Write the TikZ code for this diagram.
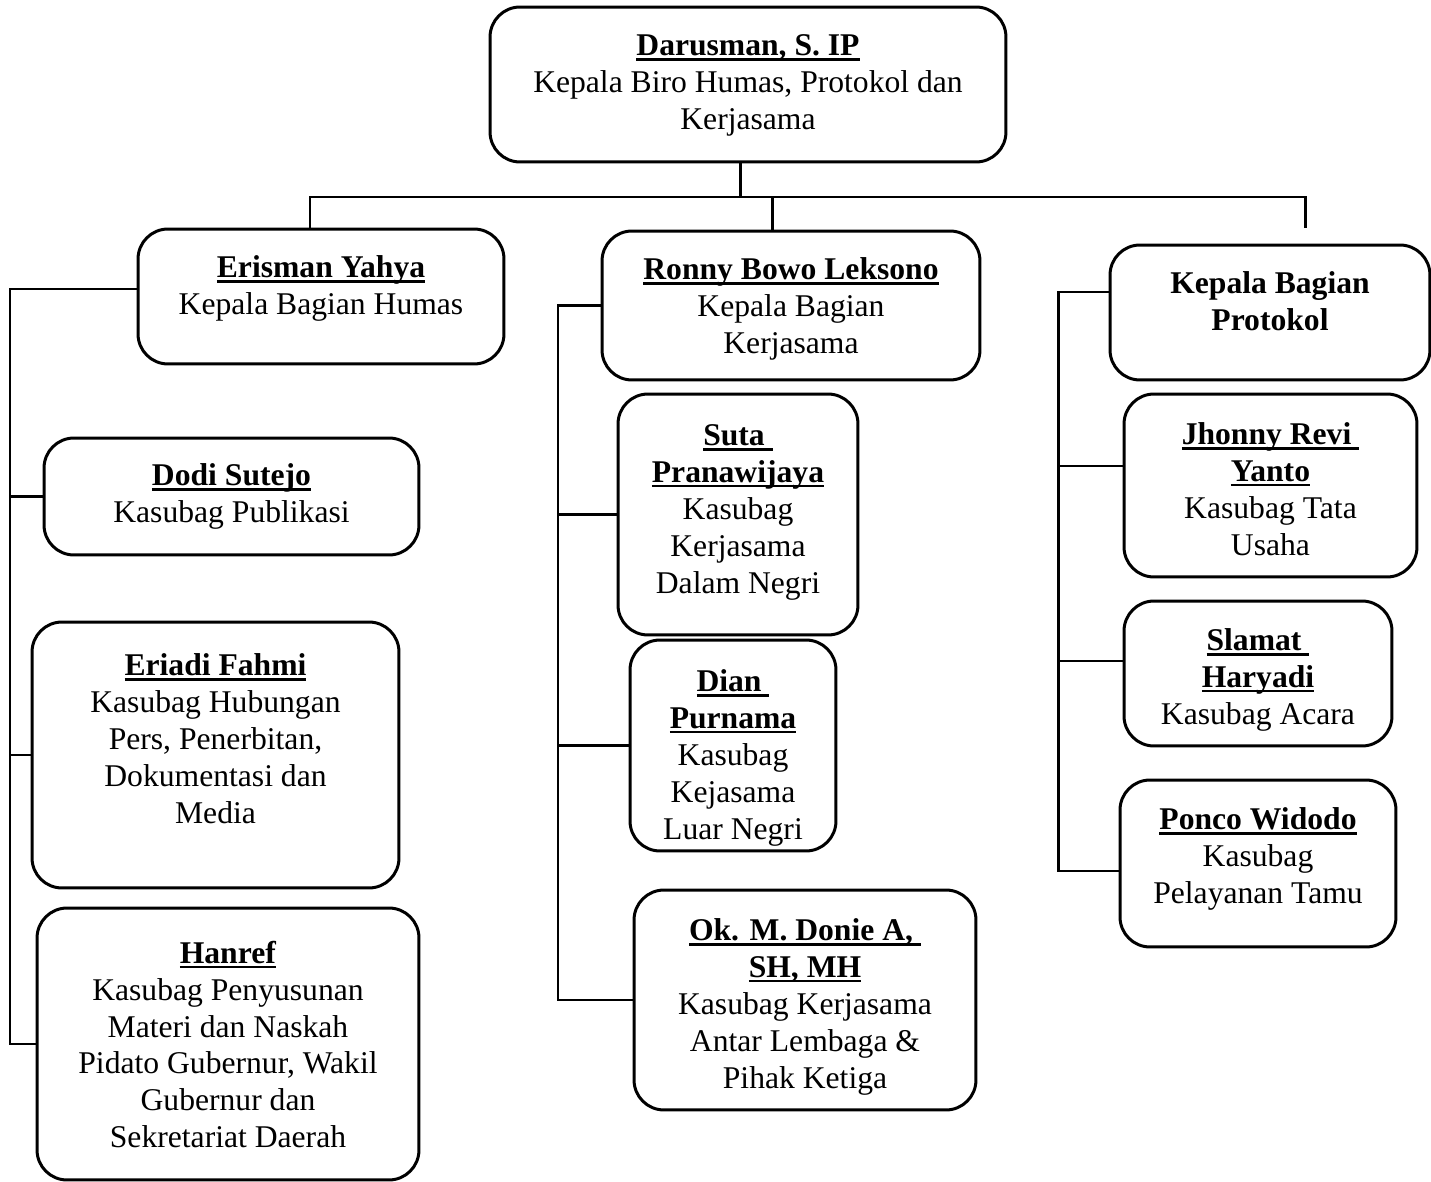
\documentclass[tikz,border=0pt]{standalone}
\usepackage{fontspec}
\setmainfont{Liberation Serif}
\usetikzlibrary{positioning}
\newcommand{\nama}[1]{\setbox0\hbox{\textbf{#1}}\leavevmode\rlap{\rule[-2.6pt]{\wd0}{1.3pt}}\box0}

\begin{document}
\begin{tikzpicture}[x=0.02cm,y=-0.02cm,line width=1.7pt,
					box/.style={draw,rounded corners=0.6cm,inner sep=0pt},
					txt/.style={align=center,inner sep=0pt,font=\fontsize{18}{21}\selectfont}
					]
\useasboundingbox (0,0) rectangle (1431,1182);
% kepala biro
\node[box,minimum width=10.32cm,minimum height=3.1cm](kepala) at (748,84.5){};
\node[txt,below=0.56cm of kepala.north](tkepala){\nama{Darusman, S. IP}\\Kepala Biro Humas, Protokol dan\\Kerjasama};
% kepala bagian
\node[box,minimum width=7.32cm,minimum height=2.7cm](humas) at (321,296.5){};
\node[txt,below=0.54cm of humas.north](thumas){\nama{Erisman Yahya}\\Kepala Bagian Humas};
\node[box,minimum width=7.56cm,minimum height=2.98cm](kerja) at (791,305.5){};
\node[txt,below=0.54cm of kerja.north](tkerja){\nama{Ronny Bowo Leksono}\\Kepala Bagian\\Kerjasama};
\node[box,minimum width=6.4cm,minimum height=2.7cm](proto) at (1270,312.5){};
\node[txt,below=0.54cm of proto.north](tproto){\textbf{Kepala Bagian}\\\textbf{Protokol}};
% kasubag humas
\node[box,minimum width=7.5cm,minimum height=2.34cm](dodi) at (231.5,496.5){};
\node[txt,below=0.52cm of dodi.north](tdodi){\nama{Dodi Sutejo}\\Kasubag Publikasi};
\node[box,minimum width=7.34cm,minimum height=5.32cm](eriadi) at (215.5,755){};
\node[txt,below=0.64cm of eriadi.north](teriadi){\nama{Eriadi Fahmi}\\Kasubag Hubungan\\Pers, Penerbitan,\\Dokumentasi dan\\Media};
\node[box,minimum width=7.64cm,minimum height=5.44cm](hanref) at (228,1044){};
\node[txt,below=0.66cm of hanref.north](thanref){\nama{Hanref}\\Kasubag Penyusunan\\Materi dan Naskah\\Pidato Gubernur, Wakil\\Gubernur dan\\Sekretariat Daerah};
% kasubag kerjasama
\node[box,minimum width=4.8cm,minimum height=4.82cm](suta) at (738,514.5){};
\node[txt,below=0.62cm of suta.north](tsuta){\nama{Suta\ }\\\nama{Pranawijaya}\\Kasubag\\Kerjasama\\Dalam Negri};
\node[box,minimum width=4.12cm,minimum height=4.22cm](dian) at (733,745.5){};
\node[txt,below=0.6cm of dian.north](tdian){\nama{Dian\ }\\\nama{Purnama}\\Kasubag\\Kejasama\\Luar Negri};
\node[box,minimum width=6.84cm,minimum height=4.4cm](donie) at (805,1000){};
\node[txt,below=0.58cm of donie.north](tdonie){\nama{Ok. M. Donie A,\ }\\\nama{SH, MH}\\Kasubag Kerjasama\\Antar Lembaga \&\\Pihak Ketiga};
% kasubag protokol
\node[box,minimum width=5.86cm,minimum height=3.66cm](jhonny) at (1270.5,485.5){};
\node[txt,below=0.58cm of jhonny.north](tjhonny){\nama{Jhonny Revi\ }\\\nama{Yanto}\\Kasubag Tata\\Usaha};
\node[box,minimum width=5.36cm,minimum height=2.9cm](slamat) at (1258,673.5){};
\node[txt,below=0.56cm of slamat.north](tslamat){\nama{Slamat\ }\\\nama{Haryadi}\\Kasubag Acara};
\node[box,minimum width=5.52cm,minimum height=3.34cm](ponco) at (1258,863.5){};
\node[txt,below=0.56cm of ponco.north](tponco){\nama{Ponco Widodo}\\Kasubag\\Pelayanan Tamu};

% garis atas
\coordinate (bl) at (310,197);
\coordinate (bm) at (772,197);
\coordinate (br) at (1305,197);
\coordinate (pr) at (1305,228);
\draw ([xshift=-0.16cm]kepala.south) -- ([xshift=-0.16cm]kepala.south |- bl);
\draw (bl |- humas.north) -- (bl) -- (br) -- (pr);
\draw (bm) -- (bm |- kerja.north);

% cabang humas
\coordinate (sl) at (10,289);
\draw ([yshift=0.15cm]humas.west) -| (sl |- hanref.west) -- (hanref.west);
\foreach \n in {dodi,eriadi} \draw (sl |- \n.west) -- (\n.west);

% cabang kerjasama
\coordinate (sm) at (558,303);
\draw (kerja.west) -| (sm |- donie.west) -- (donie.west);
\foreach \n in {suta,dian} \draw (sm |- \n.west) -- (\n.west);

% cabang protokol
\coordinate (sr) at (1058,292);
\coordinate (pw) at ([yshift=-0.15cm]ponco.west);
\coordinate (jw) at ([yshift=0.39cm]jhonny.west);
\coordinate (sw) at ([yshift=0.25cm]slamat.west);
\draw ([yshift=0.41cm]proto.west) -| (sr |- pw) -- (pw);
\foreach \n in {jw,sw} \draw (sr |- \n) -- (\n);
\end{tikzpicture}
\end{document}
